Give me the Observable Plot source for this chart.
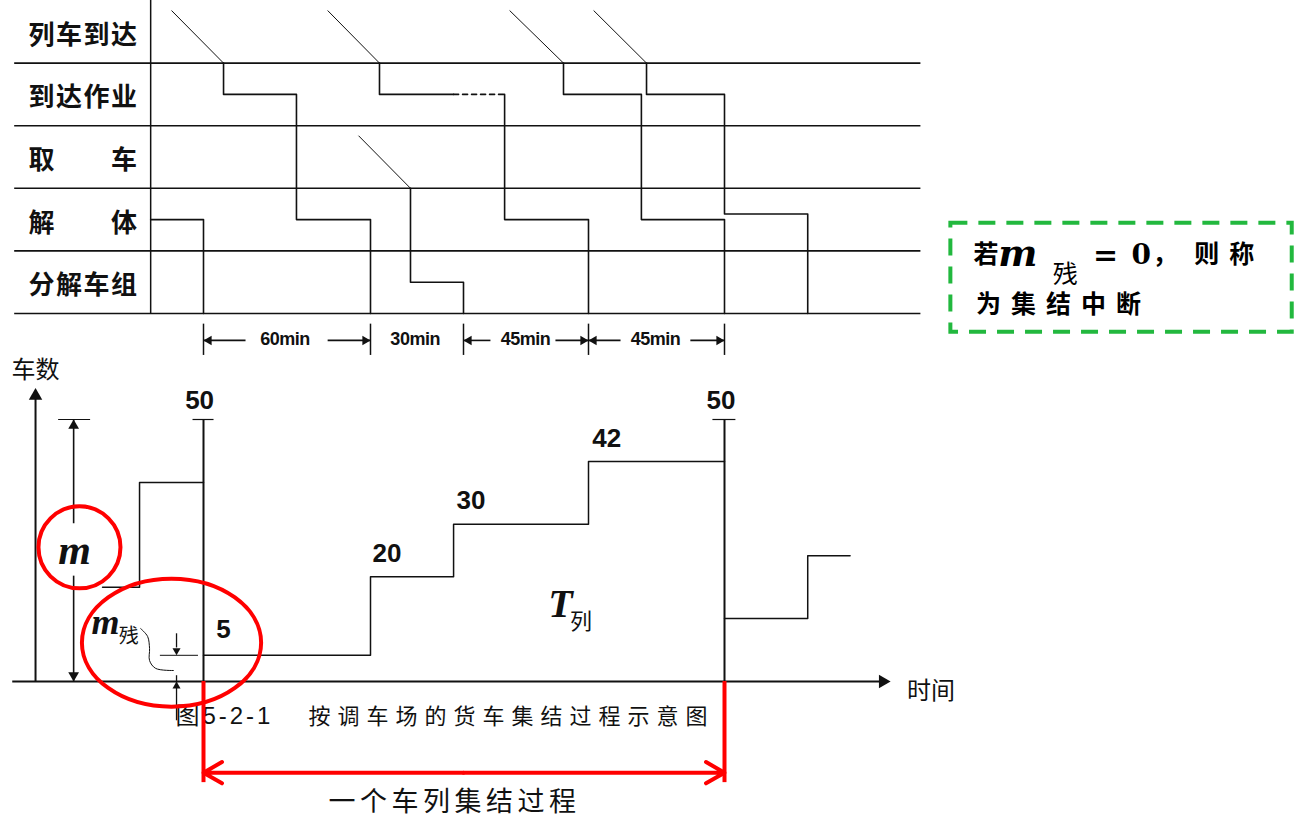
<!DOCTYPE html>
<html><head><meta charset="utf-8">
<script src="https://cdn.jsdelivr.net/npm/d3@7"></script>
<script src="https://cdn.jsdelivr.net/npm/@observablehq/plot@0.6"></script>
<style>
body{margin:0;background:#fff;}
#wrap{position:relative;width:1299px;height:823px;overflow:hidden;background:#fff;}
#wrap svg{position:absolute;left:0;}
</style></head><body><div id="wrap"></div>
<script>
// ---------- data (time in minutes, top rows as lane index, bottom as car count) ----------
const timeBreaks = [-73, 0, 60, 90, 135, 180, 370];
const timePixels = [0, 203, 370, 463, 588, 724, 1299];

const rowLabels = ["列车到达", "到达作业", "取　　车", "解　　体", "分解车组"];
const rowLines = [1, 2, 3, 4, 5];

const arrivals = [
  {t1: -11.5, r1: 0.16, t2: 7.2, r2: 1},
  {t1: 44.6, r1: 0.16, t2: 62.9, r2: 1},
  {t1: 55.7, r1: 2.16, t2: 72.9, r2: 3},
  {t1: 106.6, r1: 0.16, t2: 126, r2: 1},
  {t1: 136.7, r1: 0.16, t2: 154.2, r2: 1}
];
const trainPaths = {
  pre: [[-19, 3.5], [0, 3.5], [0, 5]],
  train1: [[7.2, 1], [7.2, 1.5], [33.4, 1.5], [33.4, 3.5], [60, 3.5], [60, 5]],
  train2a: [[62.9, 1], [62.9, 1.5], [86.8, 1.5]],
  train2b: [[104.8, 1.5], [104.8, 3.5], [135, 3.5], [135, 5]],
  pickup: [[72.9, 3], [72.9, 4.5], [90, 4.5], [90, 5]],
  train3: [[126, 1], [126, 1.5], [152.5, 1.5], [152.5, 3.5], [180, 3.5], [180, 5]],
  train4: [[154.2, 1], [154.2, 1.5], [180, 1.5], [180, 3.41], [207.5, 3.41], [207.5, 5]]
};
const waitDashed = [[86.8, 1.5], [104.8, 1.5]];

const intervalMarks = [0, 60, 90, 135, 180];
const intervalLabels = [
  {t: 29.3, text: "60min"}, {t: 74.4, text: "30min"},
  {t: 112.3, text: "45min"}, {t: 157.2, text: "45min"}
];
const intervalArrowsLeft = [{from: 15.1, to: 0}, {from: 99.7, to: 90}, {from: 145.6, to: 135}];
const intervalArrowsRight = [{from: 44.6, to: 60}, {from: 123.1, to: 135}, {from: 168.7, to: 180}];

const carsBefore = [{t: -36.3, n: 18}, {t: -23, n: 38}, {t: 0, n: 38}];
const carsMain = [{t: 0, n: 5}, {t: 60, n: 20}, {t: 86.8, n: 30}, {t: 135, n: 42}, {t: 180, n: 42}];
const carsAfter = [{t: 180, n: 12}, {t: 207.5, n: 24}, {t: 221.5, n: 24}];
const departures = [0, 180];
const trainSize = 50;
const departureTicks = [{x1: -3.95, x2: 3.6}, {x1: 176, x2: 183.6}];
const levelLabels = [
  {t: -1.4, n: 53.6, text: "50"}, {t: 178.8, n: 53.6, text: "50"},
  {t: 7.2, n: 9.8, text: "5"}, {t: 65.3, n: 24.4, text: "20"},
  {t: 92.7, n: 34.6, text: "30"}, {t: 141, n: 46.4, text: "42"}
];
const leader = [[-22.6, 10.1], [-20.1, 8.6], [-19.4, 6.3], [-19.4, 4.0], [-17.2, 2.5], [-10.8, 2.1]];

// ---------- top plot ----------
const X = {type: "linear", domain: timeBreaks, range: timePixels, axis: null};
const cjk = "Noto Sans CJK SC";
const pathPts = Object.entries(trainPaths).flatMap(([id, pts]) => pts.map(([t, r]) => ({id, t, r})));

const topPlot = Plot.plot({
  width: 1299, height: 360, margin: 0,
  x: X, y: {type: "linear", domain: [0, 5], range: [0, 313], axis: null},
  style: {background: "transparent", overflow: "visible", fontFamily: cjk},
  marks: [
    Plot.ruleY(rowLines, {y: d => d, x1: -67.9, x2: 244.9, strokeWidth: 1.6, stroke: "#111"}),
    Plot.ruleX([-19], {y1: 0, y2: 5, strokeWidth: 1.5, stroke: "#111"}),
    Plot.text(rowLabels, {x: -62.9, y: (d, i) => i + 0.56, text: d => d, textAnchor: "start",
      fontSize: 26, fontWeight: "bold", fontFamily: cjk, fill: "#111"}),
    Plot.link(arrivals, {x1: "t1", y1: "r1", x2: "t2", y2: "r2", strokeWidth: 1, stroke: "#111"}),
    Plot.line(pathPts, {x: "t", y: "r", z: "id", strokeWidth: 1.6, stroke: "#111"}),
    Plot.line(waitDashed, {x: d => d[0], y: d => d[1], strokeWidth: 1.6, strokeDasharray: "5,4", stroke: "#111"}),
    Plot.ruleX(intervalMarks, {y1: 5.17, y2: 5.67, strokeWidth: 1.5, stroke: "#111"}),
    Plot.link(intervalArrowsLeft.concat(intervalArrowsRight), {x1: "from", x2: "to", y1: 5.43, y2: 5.43, strokeWidth: 1.6, stroke: "#111"}),
    Plot.dot(intervalArrowsLeft, {x: "to", y: 5.43, symbol: "triangle", r: 3.5, rotate: -90, dx: 5.4, fill: "#111"}),
    Plot.dot(intervalArrowsRight, {x: "to", y: 5.43, symbol: "triangle", r: 3.5, rotate: 90, dx: -5.4, fill: "#111"}),
    Plot.text(intervalLabels, {x: "t", y: 5.41, text: "text", fontSize: 18, fontWeight: "bold", fontFamily: "Liberation Sans", fill: "#111"}),
    // note box
    Plot.rect([1], {x1: 254.8, x2: 367.6, y1: 3.56, y2: 5.3, fill: "none", stroke: "#22b83e", strokeWidth: 4, strokeDasharray: "17,11"}),
    Plot.text(["若"], {x: 266.4, y: 4.07, text: d => d, fontSize: 25, fontWeight: "bold", fontFamily: cjk}),
    Plot.text(["m"], {x: 276.9, y: 4.05, text: d => d, fontSize: 37, fontWeight: "bold", fontStyle: "italic", fontFamily: "DejaVu Serif"}),
    Plot.text(["残"], {x: 292.6, y: 4.38, text: d => d, fontSize: 25, fontFamily: cjk}),
    Plot.text(["="], {x: 305.9, y: 4.07, text: d => d, fontSize: 30, fontWeight: "bold", fontFamily: "DejaVu Serif"}),
    Plot.text(["0"], {x: 317.7, y: 4.07, text: d => d, fontSize: 28, fontWeight: "bold", fontFamily: "DejaVu Serif"}),
    Plot.text(["，"], {x: 321.4, y: 4.07, text: d => d, textAnchor: "start", fontSize: 25, fontWeight: "bold", fontFamily: cjk}),
    Plot.text(["则称"], {x: 335.2, y: 4.07, text: d => d, textAnchor: "start", fontSize: 25, fontWeight: "bold", fontFamily: cjk}),
    Plot.text(["为集结中断"], {x: 263.1, y: 4.87, text: d => d, textAnchor: "start", fontSize: 25, fontWeight: "bold", fontFamily: cjk})
  ]
});
topPlot.style.top = "0px";

// ---------- bottom plot ----------
const red = "#ff0000";
const ellipse = {
  draw(ctx, size) {
    const r = Math.sqrt(size / Math.PI), rx = r * 1.4, ry = r, k = 0.5523;
    ctx.moveTo(rx, 0);
    ctx.bezierCurveTo(rx, ry * k, rx * k, ry, 0, ry);
    ctx.bezierCurveTo(-rx * k, ry, -rx, ry * k, -rx, 0);
    ctx.bezierCurveTo(-rx, -ry * k, -rx * k, -ry, 0, -ry);
    ctx.bezierCurveTo(rx * k, -ry, rx, -ry * k, rx, 0);
    ctx.closePath();
  }
};

const bottomPlot = Plot.plot({
  width: 1299, height: 463, margin: 0,
  x: X, y: {type: "linear", domain: [0, 50], range: [321, 59], axis: null},
  style: {background: "transparent", overflow: "visible", fontFamily: cjk},
  marks: [
    Plot.ruleY([0], {x1: -68.6, x2: 232, strokeWidth: 2.2, stroke: "#111"}),
    Plot.dot([0], {x: 234.9, y: 0, symbol: "triangle", r: 5, rotate: 90, dx: -7.8, fill: "#111"}),
    Plot.ruleX([-60.4], {y1: 0, y2: 54.6, strokeWidth: 2, stroke: "#111"}),
    Plot.dot([0], {x: -60.4, y: 56, symbol: "triangle", r: 5, dy: 7.8, fill: "#111"}),
    Plot.text(["车数"], {x: -60.4, y: 59.4, text: d => d, fontSize: 24, fontFamily: cjk, fill: "#111"}),
    Plot.text(["时间"], {x: 248.2, y: -1.9, text: d => d, fontSize: 24, fontFamily: cjk, fill: "#111"}),
    Plot.ruleY([trainSize], {x1: -52.1, x2: -40.6, strokeWidth: 1.2, stroke: "#111"}),
    Plot.link([{a: 50, b: 30.2}, {a: 20.2, b: 0}], {x1: -46.7, x2: -46.7, y1: "a", y2: "b", strokeWidth: 1.6, stroke: "#111"}),
    Plot.dot([trainSize], {x: -46.7, y: d => d, symbol: "triangle", r: 4, dy: 6.2, fill: "#111"}),
    Plot.dot([0], {x: -46.7, y: d => d, symbol: "triangle", r: 4, rotate: 180, dy: -6.2, fill: "#111"}),
    Plot.text(["m"], {x: -46.4, y: 25, text: d => d, fontSize: 42, fontWeight: "bold", fontStyle: "italic", fontFamily: "Liberation Serif", fill: "#111"}),
    Plot.line(carsBefore, {x: "t", y: "n", curve: "step-after", strokeWidth: 1.5, stroke: "#111"}),
    Plot.line(carsMain, {x: "t", y: "n", curve: "step-after", strokeWidth: 1.5, stroke: "#111"}),
    Plot.line(carsAfter, {x: "t", y: "n", curve: "step-after", strokeWidth: 1.5, stroke: "#111"}),
    Plot.ruleX(departures, {y1: 0, y2: trainSize, strokeWidth: 2, stroke: "#111"}),
    Plot.link(departureTicks, {x1: "x1", x2: "x2", y1: trainSize, y2: trainSize, strokeWidth: 1.2, stroke: "#111"}),
    Plot.text(levelLabels, {x: "t", y: "n", text: "text", fontSize: 26, fontWeight: "bold", fontFamily: "Liberation Sans", fill: "#111"}),
    Plot.ruleY([5], {x1: -15.5, x2: -1.8, strokeWidth: 1, stroke: "#111"}),
    Plot.link([{a: 9.2, b: 6.5}, {a: 1.2, b: -7.4}], {x1: -9.7, x2: -9.7, y1: "a", y2: "b", strokeWidth: 1.3, stroke: "#111"}),
    Plot.dot([5], {x: -9.7, y: d => d, symbol: "triangle", r: 3, rotate: 180, dy: -4.6, fill: "#111"}),
    Plot.dot([0], {x: -9.7, y: d => d, symbol: "triangle", r: 3, dy: 4.6, fill: "#111"}),
    Plot.line(leader, {x: d => d[0], y: d => d[1], curve: "catmull-rom", strokeWidth: 1, stroke: "#111"}),
    Plot.text(["m"], {x: -35.2, y: 11.3, text: d => d, fontSize: 36, fontWeight: "bold", fontStyle: "italic", fontFamily: "Liberation Serif", fill: "#111"}),
    Plot.text(["残"], {x: -26.9, y: 8.6, text: d => d, fontSize: 20, fontFamily: cjk, fill: "#111"}),
    Plot.text(["T"], {x: 124.9, y: 14.7, text: d => d, fontSize: 40, fontStyle: "italic", fontWeight: "bold", fontFamily: "Liberation Serif", fill: "#111"}),
    Plot.text(["列"], {x: 132.3, y: 11.3, text: d => d, fontSize: 22, fontFamily: cjk, fill: "#111"}),
    Plot.text(["图5-2-1"], {x: -10.1, y: -6.7, text: d => d, textAnchor: "start", fontSize: 24, fontFamily: "Liberation Sans, Noto Sans CJK SC", fill: "#111"}),
    Plot.text(["按调车场的货车集结过程示意图"], {x: 37.7, y: -6.7, text: d => d, textAnchor: "start", fontSize: 22, fontFamily: cjk, fill: "#111"}),
    Plot.ruleX(departures, {y1: 0, y2: -19.3, stroke: red, strokeWidth: 4}),
    Plot.arrow([{a: 90, b: 0}, {a: 90, b: 180}], {x1: "a", x2: "b", y1: -17.4, y2: -17.4, stroke: red, strokeWidth: 4, headLength: 8, headAngle: 60}),
    Plot.text(["一个车列集结过程"], {x: 87.1, y: -23.1, text: d => d, fontSize: 27, fontFamily: cjk, fill: "#111"}),
    Plot.dot([0], {x: -44.6, y: 25.6, r: 41, stroke: red, strokeWidth: 4, fill: "none"}),
    Plot.dot([0], {x: -11.5, y: 7.4, r: 64, symbol: ellipse, stroke: red, strokeWidth: 4, fill: "none"})
  ]
});
bottomPlot.style.top = "360px";

// letter spacing for texts that are spread out in the original
const spacingByText = {
  "列车到达": "1.5px", "到达作业": "1.5px", "取　　车": "1.5px", "解　　体": "1.5px", "分解车组": "1.5px",
  "60min": "-0.5px", "30min": "-0.5px", "45min": "-0.5px",
  "则称": "10px", "为集结中断": "10px",
  "图5-2-1": "3px", "按调车场的货车集结过程示意图": "7px", "一个车列集结过程": "4.5px"
};
for (const svg of [topPlot, bottomPlot]) {
  svg.querySelectorAll("text").forEach(t => {
    const s = spacingByText[t.textContent];
    if (s) t.setAttribute("style", (t.getAttribute("style") || "") + ";letter-spacing:" + s);
  });
}

const wrap = document.getElementById("wrap");
wrap.appendChild(topPlot);
wrap.appendChild(bottomPlot);
</script></body></html>
